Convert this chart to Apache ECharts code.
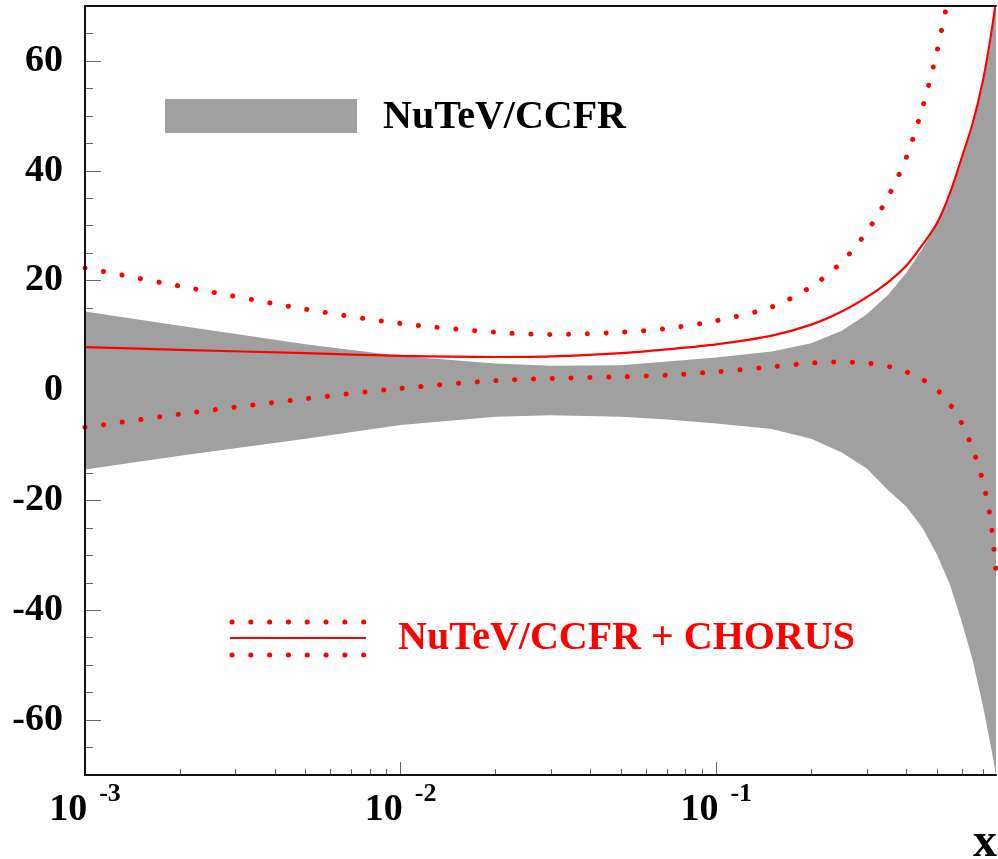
<!DOCTYPE html>
<html><head><meta charset="utf-8">
<script src="https://cdn.jsdelivr.net/npm/echarts@6/dist/echarts.min.js"></script>
<style>html,body{margin:0;padding:0;background:#fff}#c{width:998px;height:859px}</style>
</head><body><div id="c"></div>
<script>
// ---- data ----
const xGrid = [0.001, 0.002, 0.005, 0.01, 0.02, 0.03, 0.05, 0.07, 0.1, 0.15, 0.2, 0.25, 0.3, 0.35, 0.4, 0.45, 0.5, 0.55, 0.6, 0.65, 0.7, 0.74, 0.77];
const bandUpper = [14.4, 11.8, 8.4, 6.3, 4.9, 4.5, 4.6, 5.3, 6.0, 7.1, 8.6, 10.9, 13.9, 17.4, 21.4, 25.8, 30.2, 35.3, 41.8, 48.0, 55.5, 63.0, 70.0];
const bandLower = [-14.4, -11.9, -8.8, -6.3, -4.8, -4.5, -4.8, -5.3, -6.0, -7.0, -8.8, -11.3, -14.2, -18.1, -21.1, -25.0, -29.8, -35.3, -42.1, -49.2, -57.4, -64.5, -70.0];
const centralLine = [7.9, 7.4, 6.8, 6.3, 6.1, 6.2, 6.8, 7.5, 8.4, 10.0, 12.0, 14.4, 17.0, 19.7, 22.7, 26.5, 30.4, 35.9, 42.4, 48.7, 56.4, 64.2, 71.0];
const upperDotted = [22.3, 19.0, 14.8, 12.2, 10.6, 10.2, 10.6, 11.3, 12.7, 15.2, 18.9, 23.4, 28.9, 35.2, 42.4, 51.4, 61.6, 73.0];
const lowerDotted = [-6.7, -4.3, -1.5, 0.4, 1.8, 2.2, 2.5, 2.8, 3.4, 4.3, 5.0, 5.2, 5.0, 4.4, 3.4, 2.0, 0.2, -2.5, -6.0, -10.7, -16.6, -23.5, -33.0];
const majorX = [0.001, 0.01, 0.1];
const minorX = [0.002,0.003,0.004,0.005,0.006,0.007,0.008,0.009,0.02,0.03,0.04,0.05,0.06,0.07,0.08,0.09,0.2,0.3,0.4,0.5,0.6,0.7];
const majorY = [-60, -40, -20, 0, 20, 40, 60];
const minorY = [-65,-55,-50,-45,-35,-30,-25,-15,-10,-5,5,10,15,25,30,35,45,50,55,65];
const legendBand = 'NuTeV/CCFR';
const legendRed = 'NuTeV/CCFR + CHORUS';
const axisTitle = 'x';

// ---- chart ----
const FONT = "'Liberation Serif', 'Times New Roman', serif";
const xMin = 0.001, xMax = 0.77, yMin = -70, yMax = 70;
const zip = (xs, ys) => ys.map((y, i) => [xs[i], y]);
const chart = echarts.init(document.getElementById('c'), null, {renderer: 'canvas'});
const tickStyle = {color: '#666', width: 1};
const lineOnly = {show: true, onZero: false, lineStyle: {color: '#111', width: 2}};
const noLine = {show: false, onZero: false};

const option = {
  animation: false,
  backgroundColor: '#fff',
  grid: {left: 85, right: 2, top: 6, bottom: 84},
  xAxis: [
    {type: 'log', logBase: 10, min: xMin, max: xMax, position: 'bottom', z: 0,
     axisLine: noLine,
     axisTick: {show: true, inside: true, length: 13, lineStyle: tickStyle, customValues: majorX},
     axisLabel: {show: true, customValues: majorX, margin: 6,
       formatter: v => '{b|10}{s|' + Math.round(Math.log10(v)) + '}',
       rich: {
         b: {fontFamily: FONT, fontWeight: 'bold', fontSize: 38, color: '#000', verticalAlign: 'bottom'},
         s: {fontFamily: FONT, fontWeight: 'bold', fontSize: 26, color: '#000', verticalAlign: 'bottom', padding: [0, 0, 22, 12]}
       }},
     splitLine: {show: false}},
    {type: 'log', logBase: 10, min: xMin, max: xMax, position: 'bottom', z: 0,
     axisLine: noLine,
     axisTick: {show: true, inside: true, length: 6, lineStyle: tickStyle, customValues: minorX},
     axisLabel: {show: false}, splitLine: {show: false}},
    {type: 'log', logBase: 10, min: xMin, max: xMax, position: 'bottom', z: 10,
     axisLine: lineOnly, axisTick: {show: false}, axisLabel: {show: false}, splitLine: {show: false}},
    {type: 'log', logBase: 10, min: xMin, max: xMax, position: 'top', z: 10,
     axisLine: lineOnly, axisTick: {show: false}, axisLabel: {show: false}, splitLine: {show: false}}
  ],
  yAxis: [
    {type: 'value', min: yMin, max: yMax, position: 'left', z: 0,
     axisLine: noLine,
     axisTick: {show: true, inside: true, length: 16, lineStyle: tickStyle, customValues: majorY},
     axisLabel: {show: true, customValues: majorY, margin: 22, fontFamily: FONT, fontWeight: 'bold', fontSize: 38, color: '#000'},
     splitLine: {show: false}},
    {type: 'value', min: yMin, max: yMax, position: 'left', z: 0,
     axisLine: noLine,
     axisTick: {show: true, inside: true, length: 8, lineStyle: tickStyle, customValues: minorY},
     axisLabel: {show: false}, splitLine: {show: false}},
    {type: 'value', min: yMin, max: yMax, position: 'left', z: 10,
     axisLine: lineOnly, axisTick: {show: false}, axisLabel: {show: false}, splitLine: {show: false}}
  ],
  series: [
    {type: 'custom', name: legendBand, xAxisIndex: 0, yAxisIndex: 0, z: 1, silent: true,
     data: [[xGrid[0], 0]],
     renderItem: (params, api) => {
       const pts = [];
       xGrid.forEach((x, i) => pts.push(api.coord([x, bandUpper[i]])));
       for (let i = xGrid.length - 1; i >= 0; i--) pts.push(api.coord([xGrid[i], bandLower[i]]));
       return {type: 'polygon', shape: {points: pts}, style: {fill: '#a0a0a0', stroke: null}};
     }},
    {type: 'line', name: 'central', xAxisIndex: 0, yAxisIndex: 0, z: 3, data: zip(xGrid, centralLine),
     showSymbol: false, symbol: 'none', smooth: 0.3,
     lineStyle: {color: '#ff0000', width: 2.2}},
    {type: 'line', name: 'upper', xAxisIndex: 0, yAxisIndex: 0, z: 3, data: zip(xGrid, upperDotted),
     showSymbol: false, symbol: 'none', smooth: 0.3,
     lineStyle: {color: '#ff0000', width: 5, type: [0.1, 18.7], cap: 'round'}},
    {type: 'line', name: 'lower', xAxisIndex: 0, yAxisIndex: 0, z: 3, data: zip(xGrid, lowerDotted),
     showSymbol: false, symbol: 'none', smooth: 0.3,
     lineStyle: {color: '#ff0000', width: 5, type: [0.1, 18.7], cap: 'round'}}
  ],
  graphic: [
    {type: 'rect', shape: {x: 165, y: 99, width: 192, height: 34}, style: {fill: '#a0a0a0'}, z: 20},
    {type: 'text', x: 383, y: 118, z: 20,
     style: {text: legendBand, font: 'bold 40px ' + FONT, fill: '#000', align: 'left', verticalAlign: 'middle', textAlign: 'left', textVerticalAlign: 'middle'}},
    {type: 'line', shape: {x1: 232, y1: 622, x2: 365, y2: 622}, z: 20,
     style: {stroke: '#ff0000', lineWidth: 5, lineDash: [0.1, 18.7], lineCap: 'round'}},
    {type: 'line', shape: {x1: 230, y1: 638, x2: 366, y2: 638}, z: 20,
     style: {stroke: '#ff0000', lineWidth: 2.2}},
    {type: 'line', shape: {x1: 232, y1: 655, x2: 365, y2: 655}, z: 20,
     style: {stroke: '#ff0000', lineWidth: 5, lineDash: [0.1, 18.7], lineCap: 'round'}},
    {type: 'text', x: 398, y: 639, z: 20,
     style: {text: legendRed, font: 'bold 40px ' + FONT, fill: '#ff0000', align: 'left', verticalAlign: 'middle', textAlign: 'left', textVerticalAlign: 'middle'}},
    {type: 'text', x: 997, y: 844, z: 20,
     style: {text: axisTitle, font: 'bold 48px ' + FONT, fill: '#000', align: 'right', verticalAlign: 'middle', textAlign: 'right', textVerticalAlign: 'middle'}}
  ]
};
chart.setOption(option);
</script>
</body></html>
